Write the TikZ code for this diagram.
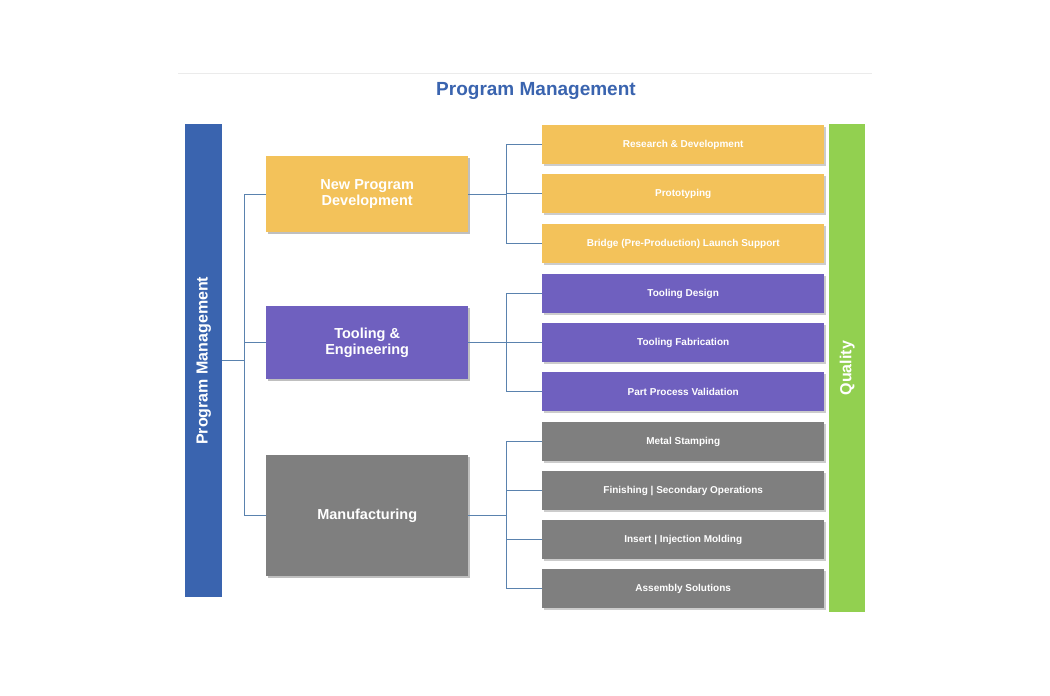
\documentclass[tikz,border=0pt]{standalone}
\usepackage{fontspec}
\setmainfont{Liberation Sans}
\usetikzlibrary{calc}
\definecolor{pmblue}{HTML}{3A64AF}
\definecolor{qgreen}{HTML}{92D050}
\definecolor{yel}{HTML}{F3C25A}
\definecolor{pur}{HTML}{6F60BF}
\definecolor{gry}{HTML}{7F7F7F}
\definecolor{lnc}{HTML}{5A82AE}
\tikzset{x=1pt,y=-1pt,
 box/.style={draw=none,inner sep=0pt,text=white,font=\bfseries,align=center},
 small/.style={box,font=\bfseries\fontsize{10}{12}\selectfont},
 mid/.style={box,font=\bfseries\fontsize{14.5}{16}\selectfont},
 conn/.style={draw=lnc,line width=0.8pt}}
\begin{document}
\begin{tikzpicture}
\useasboundingbox (0,0) rectangle (1050,696);
\fill[white] (0,0) rectangle (1050,696);
\draw[black!8,line width=0.6pt] (178,73) -- (872,73);
\node[text=pmblue,font=\bfseries\fontsize{19}{22}\selectfont] (title) at (536,91) {Program Management};
% left and right bars
\node[fill=pmblue,minimum width=37,minimum height=473,anchor=north west,inner sep=0] (pm) at (185,124) {};
\node[rotate=90,text=white,font=\bfseries\fontsize{16}{18}\selectfont] (pmt) at (pm.center) {Program Management};
\node[fill=qgreen,minimum width=36,minimum height=488,anchor=north west,inner sep=0] (q) at (829,124) {};
\node[rotate=90,text=white,font=\bfseries\fontsize{16}{18}\selectfont] (qt) at (q.center) {Quality};
% middle boxes
\foreach \n/\y/\h/\c/\t in {npd/156/76/yel/{New Program\\Development},te/306/73/pur/{Tooling \&\\Engineering},mf/455/121/gry/{Manufacturing}}{
 \fill[black!25] (268,\y+2) rectangle (470,\y+\h+2);
 \node[mid,fill=\c,minimum width=202,minimum height=\h,anchor=north west] (\n) at (266,\y) {\t};
}
% right boxes
\foreach \n/\y/\c/\t in {a/125/yel/{Research \& Development},b/174/yel/{Prototyping},c/224/yel/{Bridge (Pre-Production) Launch Support},
 d/274/pur/{Tooling Design},e/323/pur/{Tooling Fabrication},f/372/pur/{Part Process Validation},
 g/422/gry/{Metal Stamping},h/471/gry/{Finishing | Secondary Operations},i/520/gry/{Insert | Injection Molding},j/569/gry/{Assembly Solutions}}{
 \fill[black!20] (544,\y+2) rectangle (826,\y+41);
 \node[small,fill=\c,minimum width=282,minimum height=39,anchor=north west] (\n) at (542,\y) {\t};
}
% connectors
\coordinate (lj) at (244,360);
\draw[conn] (pm.east |- lj) -- (lj);
\draw[conn] (npd.west -| lj) -- (mf.west -| lj);
\foreach \m in {npd,te,mf} \draw[conn] (\m.west -| lj) -- (\m.west);
\foreach \m/\f/\l/\ks in {npd/a/c/{a,b,c},te/d/f/{d,e,f},mf/g/j/{g,h,i,j}}{
 \coordinate (v\m) at ($(\m.east)+(38,0)$);
 \draw[conn] (\m.east) -- (v\m);
 \draw[conn] (\f.west -| v\m) -- (\l.west -| v\m);
 \foreach \k in \ks \draw[conn] (\k.west -| v\m) -- (\k.west);
}
\end{tikzpicture}
\end{document}
